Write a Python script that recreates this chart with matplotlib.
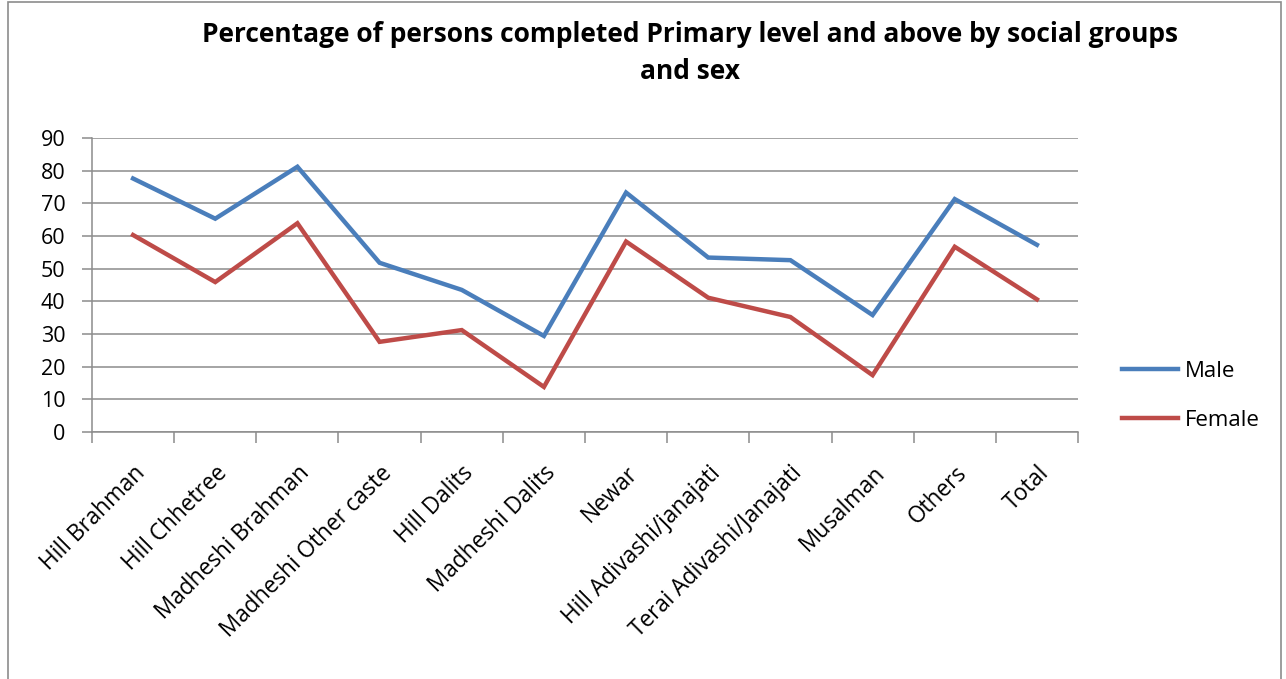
import matplotlib.pyplot as plt
from matplotlib.patches import Rectangle

# Données
groups = ["Hill Brahman", "Hill Chhetree", "Madheshi Brahman", "Madheshi Other caste",
          "Hill Dalits", "Madheshi Dalits", "Newar", "Hill Adivashi/janajati",
          "Terai Adivashi/Janajati", "Musalman", "Others", "Total"]
male = [77.6, 65.3, 81.2, 51.8, 43.5, 29.4, 73.3, 53.4, 52.6, 35.8, 71.3, 57.3]
female = [60.3, 45.9, 63.9, 27.6, 31.2, 13.8, 58.3, 41.1, 35.2, 17.4, 56.7, 40.6]

plt.rcParams["font.family"] = ["Open Sans", "DejaVu Sans"]

fig = plt.figure(figsize=(12.86, 6.79), dpi=100)
ax = fig.add_axes([92 / 1286, 1 - 432 / 679, (1078 - 92) / 1286, (432 - 138) / 679])

x = range(len(groups))
ax.plot(x, male, color="#4A7EBB", lw=3.2, label="Male", solid_joinstyle="miter")
ax.plot(x, female, color="#BE4B48", lw=3.2, label="Female", solid_joinstyle="miter")

ax.set_ylim(0, 90)
ax.set_yticks(range(0, 91, 10))
ax.set_xlim(-0.5, len(groups) - 0.5)
ax.yaxis.grid(True, color="#8C8C8C", lw=1.1)
ax.set_axisbelow(True)

# ticks aux frontières des catégories (style Excel)
ax.set_xticks([i - 0.5 for i in range(len(groups) + 1)], minor=False)
ax.set_xticklabels([])
ax.set_xticks(list(x), minor=True)
ax.set_xticklabels(groups, minor=True, rotation=45, ha="right", va="top",
                   rotation_mode="anchor", fontsize=16.3)
ax.tick_params(axis="x", which="minor", length=0, pad=21)
ax.tick_params(axis="x", which="major", length=8, color="#8C8C8C", width=1.1)
ax.tick_params(axis="y", length=7, color="#8C8C8C", width=1.1, labelsize=15.5, pad=12)

for s in ["top", "right"]:
    ax.spines[s].set_visible(False)
for s in ["left", "bottom"]:
    ax.spines[s].set_color("#8C8C8C")
    ax.spines[s].set_linewidth(1.1)

leg = fig.legend(loc="center left", bbox_to_anchor=(1102 / 1286, 1 - 396 / 679),
                 frameon=False, fontsize=16, handlelength=2.5, labelspacing=1.25,
                 handletextpad=0.35)

fig.text(690 / 1286, 1 - 53 / 679,
         "Percentage of persons completed Primary level and above by social groups\nand sex",
         ha="center", va="center", fontsize=19, fontweight="bold", linespacing=1.5)

fig.patches.append(Rectangle((8 / 1286, -0.05), (1281 - 8) / 1286, 1.047,
                             transform=fig.transFigure, fill=False,
                             edgecolor="#8C8C8C", lw=1.2))

fig.savefig("out.png", dpi=100)
